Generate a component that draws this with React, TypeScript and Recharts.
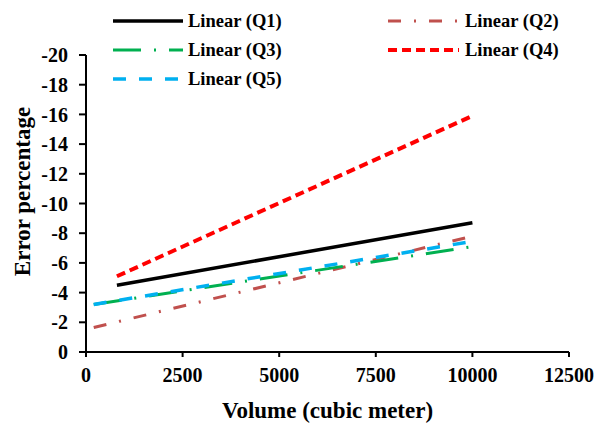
import { LineChart, Line, XAxis, YAxis } from 'recharts';

// Volume (cubic meter) at each trendline end, and error percentage
const q1Volume = [800, 10000];
const q1Error = [-4.5, -8.7];
const q2Volume = [200, 10000];
const q2Error = [-1.65, -7.8];
const q3Volume = [200, 10000];
const q3Error = [-3.2, -7.1];
const q4Volume = [800, 10000];
const q4Error = [-5.1, -15.9];
const q5Volume = [200, 10000];
const q5Error = [-3.2, -7.45];

const xTicks = [0, 2500, 5000, 7500, 10000, 12500];
const yTicks = [-20, -18, -16, -14, -12, -10, -8, -6, -4, -2, 0];

const toPoints = (vol: number[], err: number[]) => vol.map((v, i) => ({ volume: v, error: err[i] }));

const series = [
  { name: 'Linear (Q1)', data: toPoints(q1Volume, q1Error), color: '#000000', dash: undefined, width: 3.5 },
  { name: 'Linear (Q2)', data: toPoints(q2Volume, q2Error), color: '#C0504D', dash: '13 13 2 13', width: 3 },
  { name: 'Linear (Q3)', data: toPoints(q3Volume, q3Error), color: '#00B050', dash: '28 13 2 13', width: 3 },
  { name: 'Linear (Q4)', data: toPoints(q4Volume, q4Error), color: '#FF0000', dash: '9 5', width: 4 },
  { name: 'Linear (Q5)', data: toPoints(q5Volume, q5Error), color: '#00B0F0', dash: '13 13', width: 3.5 },
];

const font = '"Liberation Serif", "Times New Roman", serif';

// legend is laid out like the Excel one: two columns, Q1/Q3/Q5 on the left
const legendSlots = [
  { x: 113, y: 21 },
  { x: 388, y: 21 },
  { x: 113, y: 50 },
  { x: 388, y: 50 },
  { x: 113, y: 79 },
];

function ChartLegend() {
  return (
    <svg width={598} height={95} style={{ position: 'absolute', left: 0, top: 0 }}>
      {series.map((s, i) => {
        const slot = legendSlots[i];
        const len = i % 2 === 0 ? 70 : 71;
        const textX = i % 2 === 0 ? slot.x + 75 : slot.x + 77;
        return (
          <g key={s.name}>
            <line
              x1={slot.x}
              x2={slot.x + len}
              y1={slot.y}
              y2={slot.y}
              stroke={s.color}
              strokeWidth={s.width}
              strokeDasharray={s.dash}
            />
            <text
              x={textX}
              y={slot.y}
              dy="0.35em"
              fontFamily={font}
              fontWeight="bold"
              fontSize={18.5}
              fill="#000"
            >
              {s.name}
            </text>
          </g>
        );
      })}
    </svg>
  );
}

export default function App() {
  return (
    <div style={{ position: 'absolute', left: 0, top: 0, width: 598, height: 425, background: '#fff' }}>
      <LineChart
        width={598}
        height={425}
        margin={{ top: 55, right: 29, bottom: 23, left: 26 }}
        style={{ fontFamily: font }}
      >
        <XAxis
          dataKey="volume"
          type="number"
          domain={[0, 12500]}
          ticks={xTicks}
          height={50}
          axisLine={{ stroke: '#000', strokeWidth: 2 }}
          tickLine={{ stroke: '#000', strokeWidth: 2 }}
          tickSize={5}
          tickMargin={11}
          tick={{ fill: '#000', fontSize: 20, fontWeight: 'bold', fontFamily: font }}
          label={{
            content: ({ viewBox }: any) => (
              <text
                x={viewBox.x + viewBox.width / 2}
                y={418}
                textAnchor="middle"
                fontFamily={font}
                fontWeight="bold"
                fontSize={23}
                fill="#000"
              >
                Volume (cubic meter)
              </text>
            ),
          }}
        />
        <YAxis
          type="number"
          reversed
          domain={[-20, 0]}
          ticks={yTicks}
          width={60}
          axisLine={{ stroke: '#000', strokeWidth: 2 }}
          tickLine={{ stroke: '#000', strokeWidth: 2 }}
          tickSize={7}
          tickMargin={11}
          tick={{ fill: '#000', fontSize: 20, fontWeight: 'bold', fontFamily: font }}
          label={{
            content: ({ viewBox }: any) => {
              const cy = viewBox.y + viewBox.height / 2 - 12;
              return (
                <text
                  x={30}
                  y={cy}
                  transform={`rotate(-90 30 ${cy})`}
                  textAnchor="middle"
                  fontFamily={font}
                  fontWeight="bold"
                  fontSize={23}
                  fill="#000"
                >
                  Error percentage
                </text>
              );
            },
          }}
        />
        {series.map((s) => (
          <Line
            key={s.name}
            data={s.data}
            dataKey="error"
            name={s.name}
            type="linear"
            stroke={s.color}
            strokeWidth={s.width}
            strokeDasharray={s.dash}
            dot={false}
            activeDot={false}
            isAnimationActive={false}
          />
        ))}
      </LineChart>
      <ChartLegend />
    </div>
  );
}
